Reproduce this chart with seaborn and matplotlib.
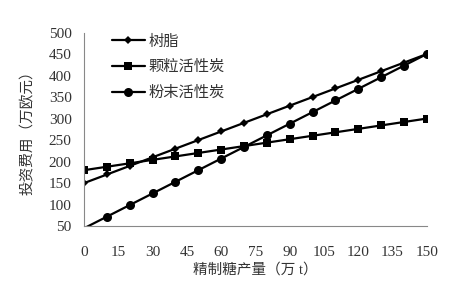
import pandas as pd
import matplotlib.pyplot as plt
import seaborn as sns

# 精制糖产量（万 t）
produccion = [0, 10, 20, 30, 40, 50, 60, 70, 80, 90, 100, 110, 120, 130, 140, 150]

# 投资费用（万欧元）
resina = [150, 170, 190, 210, 230, 250, 270, 290, 310, 330, 350, 370, 390, 410, 430, 450]
granular = [180, 188, 196, 204, 212, 220, 228, 236, 244, 252, 260, 268, 276, 284, 292, 300]
polvo = [45, 72, 99, 126, 153, 180, 207, 234, 261, 288, 315, 342, 369, 396, 423, 450]

series = ["树脂", "颗粒活性炭", "粉末活性炭"]
xticks = [0, 15, 30, 45, 60, 75, 90, 105, 120, 135, 150]
yticks = [50, 100, 150, 200, 250, 300, 350, 400, 450, 500]

df = pd.DataFrame({
    "x": produccion * 3,
    "y": resina + granular + polvo,
    "serie": [series[0]] * len(resina) + [series[1]] * len(granular) + [series[2]] * len(polvo),
})

sns.set_style("white")
plt.rcParams["font.family"] = ["Liberation Serif", "Noto Sans CJK SC"]

fig = plt.figure(figsize=(4.7, 2.88), dpi=100)
ax = fig.add_axes([0.179, 0.215, 0.729, 0.672])

sns.lineplot(
    data=df, x="x", y="y", hue="serie", style="serie",
    palette=["black"] * 3, markers=["D", "s", "o"], dashes=False,
    markersize=5, linewidth=1.6, markeredgewidth=0, ax=ax,
)
# tamaños de marcador distintos por serie
tamanos = [4.5, 6, 6.5]
for line, ms in zip(ax.get_lines()[:3], tamanos):
    line.set_markersize(ms)
# el punto fuera de escala no lleva marcador (como en Excel)
ax.get_lines()[2].set_markevery([i for i, v in enumerate(polvo) if v >= 50])

ax.set_xlim(0, 150)
ax.set_ylim(50, 500)
ax.set_xticks(xticks)
ax.set_yticks(yticks)
ax.tick_params(axis="both", direction="out", length=4, width=0.8, color="#888888",
               labelsize=11, colors="#333333", pad=5)
ax.tick_params(axis="x", pad=10)
for s in ["top", "right"]:
    ax.spines[s].set_visible(False)
for s in ["left", "bottom"]:
    ax.spines[s].set_color("#888888")
    ax.spines[s].set_linewidth(0.8)

ax.set_xlabel("精制糖产量（万 t）", fontsize=10.5, color="#333333", labelpad=3)
ax.set_ylabel("投资费用（万欧元）", fontsize=10.5, color="#333333", labelpad=10)

leg = ax.legend(loc="upper left", bbox_to_anchor=(0.04, 1.06), frameon=False,
                fontsize=11, handlelength=2.2, handletextpad=0.2, labelspacing=0.75)
for h, ms in zip(leg.legend_handles, tamanos):
    h.set_markersize(ms)
for t in leg.get_texts():
    t.set_color("#333333")

fig.savefig("out.png", dpi=100)
